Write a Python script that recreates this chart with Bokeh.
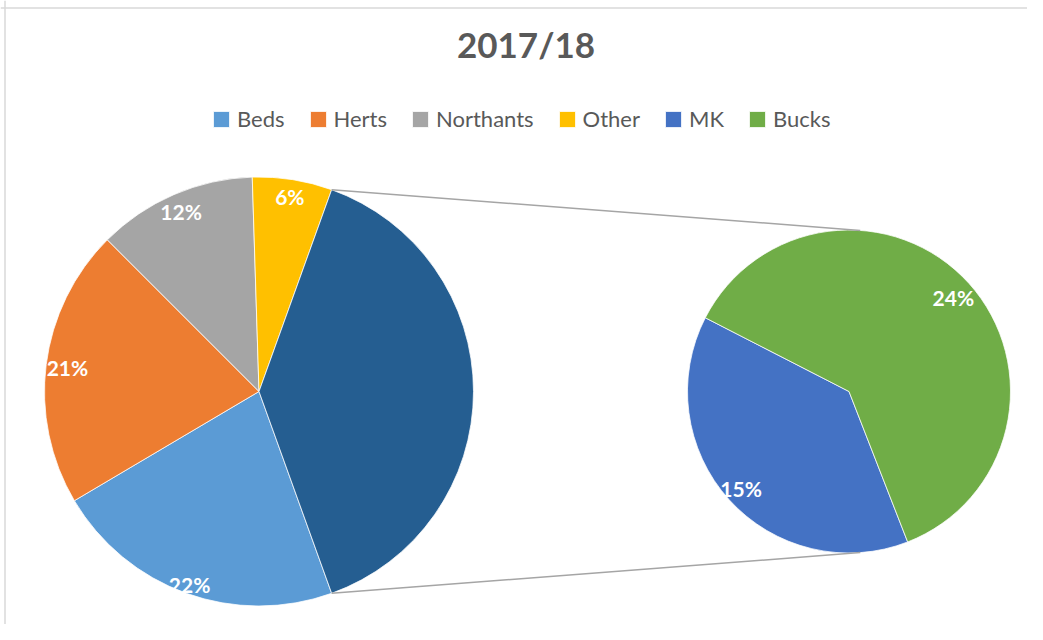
import math
from bokeh.plotting import figure
from bokeh.models import Range1d, ColumnDataSource, Legend, LegendItem, Span
from bokeh.core.properties import value
from bokeh.embed import file_html
from bokeh.resources import INLINE

# ---------------- data ----------------
title_text = "2017/18"
main_categories = ["Beds", "Herts", "Northants", "Other"]
main_values = [22, 21, 12, 6]
secondary_categories = ["MK", "Bucks"]
secondary_values = [15, 24]

# ---------------- style ----------------
main_colors = ["#5B9BD5", "#ED7D31", "#A5A5A5", "#FFC000"]
aggregate_color = "#255E91"
secondary_colors = ["#4472C4", "#70AD47"]
text_grey = "#595959"
main_label_r = [0.955, 0.90, 0.915, 0.92]
secondary_label_r = [0.90, 0.87]
SEC_START_DEG = -68.7      # where the secondary pie's first slice starts (clockwise)
CONNECT_DEG = 86           # where connector lines meet the secondary pie

W, H = 1027, 624
p = figure(width=W, height=H, output_backend="svg", toolbar_location=None,
           x_range=Range1d(0, W), y_range=Range1d(640 - H, 640),
           x_axis_type=None, y_axis_type=None, min_border=0)
p.grid.visible = False
p.outline_line_color = None
p.background_fill_color = "white"

# geometry (data units == pixels)
cx1, cy1, r1 = 258.5, 249.0, 214.5
cx2, cy2, r2 = 848.5, 249.0, 161.5

total = sum(main_values) + sum(secondary_values)
agg = sum(secondary_values)
agg_half = agg / total * math.pi

# ---- main pie: clockwise from bottom edge of aggregate slice ----
starts, ends, cols, mids = [], [], [], []
a = -agg_half
for v, c in zip(main_values, main_colors):
    d = v / total * 2 * math.pi
    starts.append(a - d)
    ends.append(a)
    mids.append(a - d / 2)
    cols.append(c)
    a -= d
starts.append(-agg_half)
ends.append(agg_half)
cols.append(aggregate_color)
main_src = ColumnDataSource(dict(start=starts, end=ends, color=cols))
r_main = p.wedge(x=cx1, y=cy1, radius=r1, start_angle="start", end_angle="end",
                 fill_color="color", line_color="white", line_width=0.75, source=main_src)

# ---- secondary pie ----
s_starts, s_ends, s_mids = [], [], []
a = math.radians(SEC_START_DEG)
for v in secondary_values:
    d = v / agg * 2 * math.pi
    s_starts.append(a - d)
    s_ends.append(a)
    s_mids.append(a - d / 2)
    a -= d
sec_src = ColumnDataSource(dict(start=s_starts, end=s_ends, color=secondary_colors))
r_sec = p.wedge(x=cx2, y=cy2, radius=r2, start_angle="start", end_angle="end",
                fill_color="color", line_color="white", line_width=0.75, source=sec_src)

# ---- connector lines ----
ca = math.radians(CONNECT_DEG)
p.segment(x0=[cx1 + r1 * math.cos(agg_half), cx1 + r1 * math.cos(-agg_half)],
          y0=[cy1 + r1 * math.sin(agg_half), cy1 + r1 * math.sin(-agg_half)],
          x1=[cx2 + r2 * math.cos(ca), cx2 + r2 * math.cos(-ca)],
          y1=[cy2 + r2 * math.sin(ca), cy2 + r2 * math.sin(-ca)],
          line_color="#A5A5A5", line_width=1.5)

# ---- data labels ----
lx = [cx1 + f * r1 * math.cos(m) for f, m in zip(main_label_r, mids)] + \
     [cx2 + f * r2 * math.cos(m) for f, m in zip(secondary_label_r, s_mids)]
ly = [cy1 + f * r1 * math.sin(m) for f, m in zip(main_label_r, mids)] + \
     [cy2 + f * r2 * math.sin(m) for f, m in zip(secondary_label_r, s_mids)]
lt = [f"{v / total * 100:.0f}%" for v in main_values + secondary_values]
p.text(x=lx, y=ly, text=lt, text_color="white", text_font=value("Lato"),
       text_font_style="bold", text_font_size="21px",
       text_align="center", text_baseline="middle")

# ---- title ----
p.text(x=[525.5], y=[640 - 43], text=[title_text], text_color=text_grey,
       text_font=value("Lato"), text_font_style="bold", text_font_size="35px",
       text_align="center", text_baseline="middle")

# ---- legend ----
items = [LegendItem(label=c, renderers=[r_main], index=i) for i, c in enumerate(main_categories)]
items += [LegendItem(label=c, renderers=[r_sec], index=i) for i, c in enumerate(secondary_categories)]
legend = Legend(items=items, orientation="horizontal", location=(211, 492),
                glyph_width=20, glyph_height=20, label_standoff=6, spacing=23,
                padding=0, margin=0, border_line_color=None, background_fill_alpha=0,
                label_text_font="Lato", label_text_font_size="22px",
                label_text_color=text_grey)
p.add_layout(legend)

# chart-area borders
p.add_layout(Span(location=632.5, dimension="width", line_color="#D9D9D9", line_width=1.5))
p.add_layout(Span(location=4.5, dimension="height", line_color="#D9D9D9", line_width=1.5))

open("out.html", "w").write(file_html(p, INLINE))
